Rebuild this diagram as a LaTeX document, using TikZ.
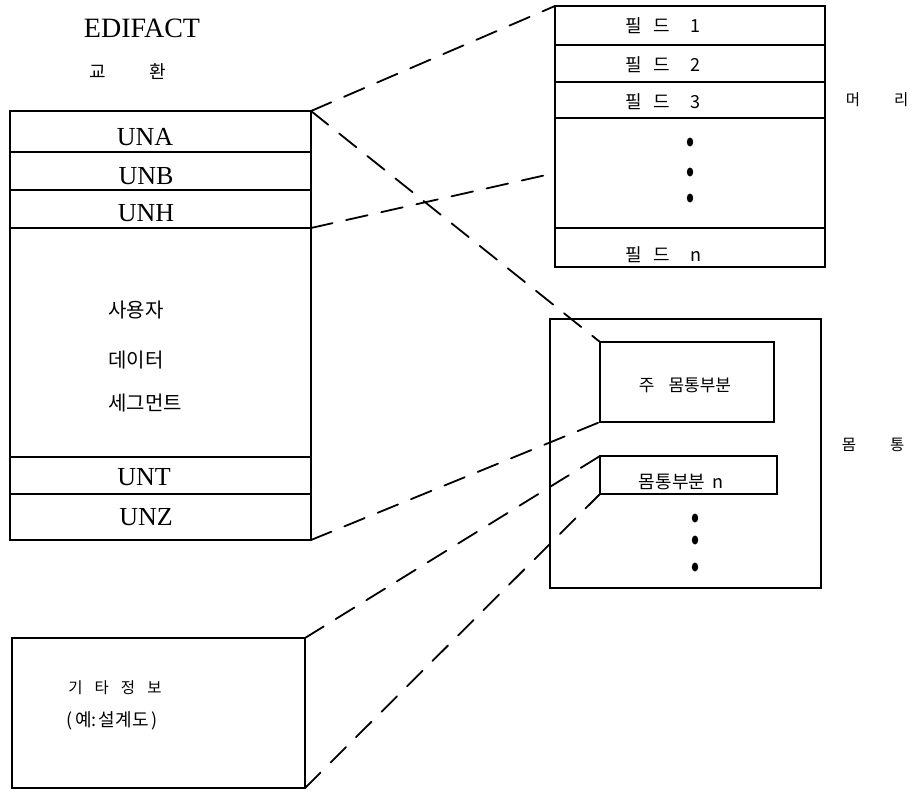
\documentclass[tikz,border=0pt]{standalone}
\usepackage{fontspec}
\setmainfont{Liberation Serif}
\newfontfamily\kr{Noto Sans CJK KR}
\newcommand\kgap[1]{\hspace{#1}}
\begin{document}
\begin{tikzpicture}[x=1pt,y=-1pt]
\tikzset{
  cell/.style={draw, line width=1.3pt, inner sep=0pt, outer sep=0pt},
  lat/.style={font=\fontsize{26}{28}\selectfont, inner sep=0pt},
  korbig/.style={font=\kr\fontsize{20}{22}\selectfont, inner sep=0pt},
  kor/.style={font=\kr\fontsize{18}{20}\selectfont, inner sep=0pt},
  korsm/.style={font=\kr\fontsize{15.5}{18}\selectfont, inner sep=0pt},
  link/.style={line width=1.8pt, dash pattern=on 22pt off 14pt, line cap=round},
  dotmark/.style={fill=black}
}
\useasboundingbox (0,0) rectangle (915,792);

% title
\node[font=\fontsize{28}{30}\selectfont, inner sep=0pt] (title) at (142,28) {EDIFACT};
\node[kor] (title2) at (128,72) {교\kgap{44pt}환};

% left stack
\node[cell, minimum width=301pt, minimum height=41pt] (una) at (160.5,131.5) {};
\node[cell, minimum width=301pt, minimum height=38pt] (unb) at (160.5,171) {};
\node[cell, minimum width=301pt, minimum height=38pt] (unh) at (160.5,209) {};
\node[cell, minimum width=301pt, minimum height=229pt] (seg) at (160.5,342.5) {};
\node[cell, minimum width=301pt, minimum height=37pt] (unt) at (160.5,475.5) {};
\node[cell, minimum width=301pt, minimum height=46pt] (unz) at (160.5,517) {};

\node[lat] (una-t) at (145,137) {UNA};
\node[lat] (unb-t) at (146,176) {UNB};
\node[lat] (unh-t) at (146,213) {UNH};
\node[lat] (unt-t) at (144,477) {UNT};
\node[lat] (unz-t) at (146,517) {UNZ};

\node[korbig, anchor=west] (seg-t1) at (108,310) {사용자};
\node[korbig, anchor=west] (seg-t2) at (108,360) {데이터};
\node[korbig, anchor=west] (seg-t3) at (108,403) {세그먼트};

% right header stack
\node[cell, minimum width=270pt, minimum height=39pt] (f1) at (690,25.5) {};
\node[cell, minimum width=270pt, minimum height=37pt] (f2) at (690,63.5) {};
\node[cell, minimum width=270pt, minimum height=36pt] (f3) at (690,100) {};
\node[cell, minimum width=270pt, minimum height=110pt] (fd) at (690,173) {};
\node[cell, minimum width=270pt, minimum height=39pt] (fn) at (690,247.5) {};

\node[kor, anchor=west] (f1-t) at (625,26) {필\kgap{12pt}드\kgap{20pt}1};
\node[kor, anchor=west] (f2-t) at (625,65) {필\kgap{12pt}드\kgap{20pt}2};
\node[kor, anchor=west] (f3-t) at (625,102) {필\kgap{12pt}드\kgap{20pt}3};
\node[kor, anchor=west] (fn-t) at (625,255) {필\kgap{12pt}드\kgap{20pt}n};

\fill[dotmark] (690,142) ellipse [x radius=3.2pt, y radius=4.5pt];
\fill[dotmark] (690,172) ellipse [x radius=3.2pt, y radius=4.5pt];
\fill[dotmark] (690,198) ellipse [x radius=3.2pt, y radius=4.5pt];

\node[korsm] (head) at (877,100) {머\kgap{34pt}리};

% body box
\node[cell, minimum width=271pt, minimum height=269pt] (body) at (685.5,453.5) {};
\node[cell, minimum width=174pt, minimum height=80pt] (in1) at (687,382) {};
\node[cell, minimum width=177pt, minimum height=38pt] (in2) at (688.5,475) {};
\node[font=\kr\fontsize{17}{19}\selectfont, inner sep=0pt] (in1-t) at (685,385) {주\kgap{14pt}몸통부분};
\node[kor] (in2-t) at (681,482) {몸통부분\kgap{7pt}n};

\fill[dotmark] (695,518) ellipse [x radius=3.2pt, y radius=4.5pt];
\fill[dotmark] (695,540) ellipse [x radius=3.2pt, y radius=4.5pt];
\fill[dotmark] (695,567) ellipse [x radius=3.2pt, y radius=4.5pt];

\node[korsm] (bodylab) at (873,445) {몸\kgap{34pt}통};

% other information box
\node[cell, minimum width=293pt, minimum height=150pt] (misc) at (158.5,713) {};
\node[korsm] (misc-t1) at (115,688) {기\kgap{12pt}타\kgap{12pt}정\kgap{12pt}보};
\node[kor] (misc-t2) at (112,721) {(\kgap{3pt}예:\kgap{2pt}설계도\kgap{3pt})};

% dashed connectors
\draw[link] (una.north east) -- (f1.north west);
\draw[link] (unh.south east) -- (fd.west);
\draw[link] (una.north east) -- (in1.north west);
\draw[link] (unz.south east) -- (in1.south west);
\draw[link] (misc.north east) -- (in2.north west);
\draw[link] (misc.south east) -- (in2.south west);
\end{tikzpicture}
\end{document}
